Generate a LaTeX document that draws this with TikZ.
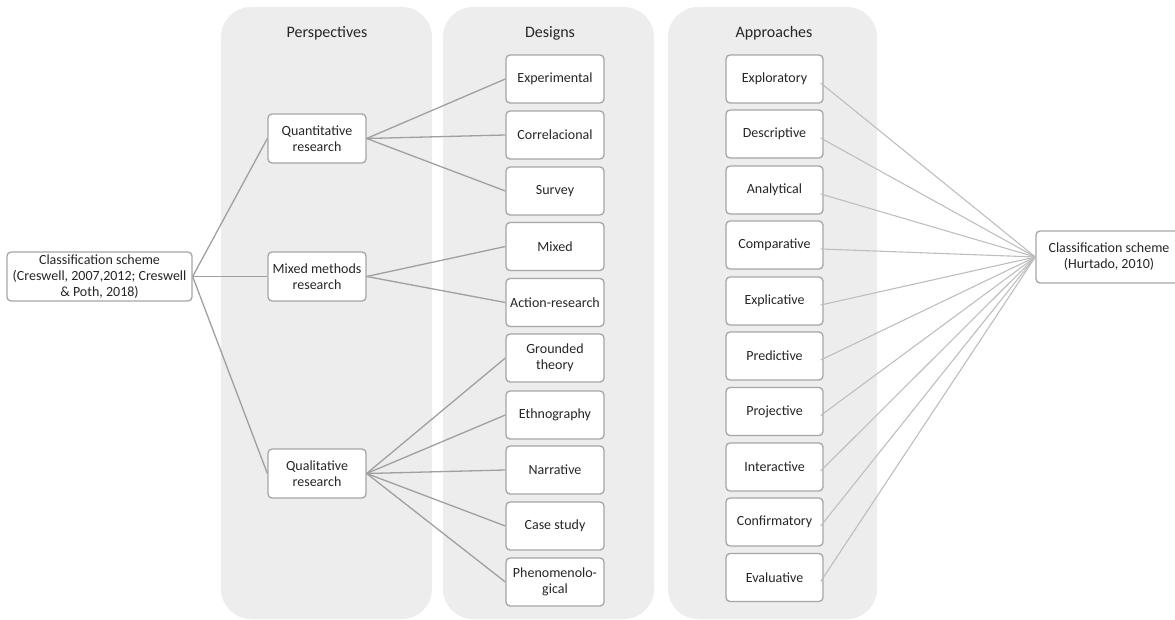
\documentclass[tikz,border=0pt]{standalone}
\usepackage{fontspec}
\setmainfont{Carlito}
\definecolor{panelgray}{HTML}{EDEDED}
\definecolor{boxedge}{HTML}{A6A6A6}
\definecolor{linkdark}{HTML}{A0A0A0}
\definecolor{linklight}{HTML}{BEBEBE}
\definecolor{txt}{HTML}{262626}
\begin{document}
\begin{tikzpicture}[x=1pt,y=-1pt,
  panel/.style={fill=panelgray, draw=none, rounded corners=30pt, inner sep=0pt},
  ptitle/.style={font=\fontsize{16}{18}\selectfont, text=txt},
  box/.style={draw=boxedge, line width=1.3pt, fill=white, rounded corners=4pt,
    minimum width=98pt, minimum height=48pt, inner sep=1pt, align=center,
    font=\fontsize{14}{16}\selectfont, text=txt},
  abox/.style={box, minimum width=97pt},
  link/.style={draw=linkdark, line width=1.3pt},
  rlink/.style={draw=linklight, line width=1.1pt}]
\useasboundingbox (0,0) rectangle (1175,620);
% panels
\node[panel, minimum width=211pt, minimum height=612pt] (pp) at (326.5,313) {};
\node[panel, minimum width=211pt, minimum height=612pt] (pd) at (548.5,313) {};
\node[panel, minimum width=209pt, minimum height=612pt] (pa) at (772.5,313) {};
\node[ptitle] (tp) at (327,33) {Perspectives};
\node[ptitle] (td) at (550,33) {Designs};
\node[ptitle] (ta) at (774,33) {Approaches};
% left root
\node[box, minimum width=185pt, minimum height=49pt] (root) at (99.5,276.5)
  {Classification scheme\\(Creswell, 2007,2012; Creswell\\\& Poth, 2018)};
% perspectives
\node[box, minimum height=49pt] (quan) at (317,138.5) {Quantitative\\research};
\node[box, minimum height=49pt] (mix) at (317,276.5) {Mixed methods\\research};
\node[box, minimum height=49pt] (qual) at (317,473.5) {Qualitative\\research};
% designs
\node[box] (d1) at (555,79) {Experimental};
\node[box] (d2) at (555,135) {Correlacional};
\node[box] (d3) at (555,191) {Survey};
\node[box] (d4) at (555,246.5) {Mixed};
\node[box] (d5) at (555,302.5) {Action-research};
\node[box] (d6) at (555,358) {Grounded\\theory};
\node[box] (d7) at (555,415) {Ethnography};
\node[box] (d8) at (555,470) {Narrative};
\node[box] (d9) at (555,526) {Case study};
\node[box] (d10) at (555,582) {Phenomenolo-\\gical};
% approaches
\node[abox] (a1) at (774.5,79) {Exploratory};
\node[abox] (a2) at (774.5,134) {Descriptive};
\node[abox] (a3) at (774.5,190) {Analytical};
\node[abox] (a4) at (774.5,245) {Comparative};
\node[abox] (a5) at (774.5,301) {Explicative};
\node[abox] (a6) at (774.5,356) {Predictive};
\node[abox] (a7) at (774.5,411.5) {Projective};
\node[abox] (a8) at (774.5,467) {Interactive};
\node[abox] (a9) at (774.5,522) {Confirmatory};
\node[abox] (a10) at (774.5,577.5) {Evaluative};
% right root
\node[box, minimum width=146pt, minimum height=52pt] (hur) at (1109,257)
  {Classification scheme\\(Hurtado, 2010)};
% left links
\draw[link] (root.east) -- (quan.west);
\draw[link] (root.east) -- (mix.west);
\draw[link] (root.east) -- (qual.west);
\foreach \d in {d1,d2,d3} \draw[link] (quan.east) -- (\d.west);
\foreach \d in {d4,d5} \draw[link] (mix.east) -- (\d.west);
\foreach \d in {d6,d7,d8,d9,d10} \draw[link] (qual.east) -- (\d.west);
% right links
\foreach \a in {a1,a2,a3,a4,a5,a6,a7,a8,a9,a10}
  \draw[rlink] ([shift={(-3,4)}]\a.east) -- (hur.west);
\end{tikzpicture}
\end{document}
